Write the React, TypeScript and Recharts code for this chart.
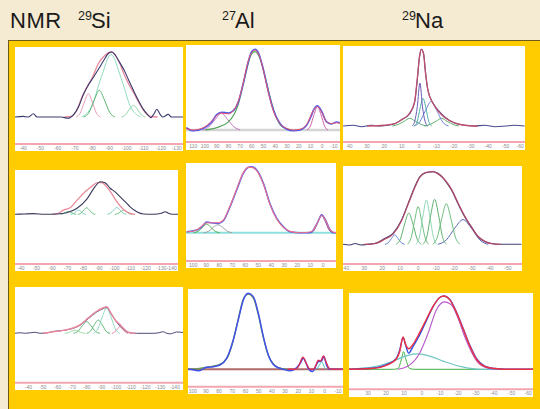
import { LineChart, Line, XAxis, YAxis, ReferenceLine } from 'recharts';

type Pt = [number, number];

// ppm tick labels under each spectrum
const siTicksA = [-40, -50, -60, -70, -80, -90, -100, -110, -120, -130];
const siTicksB = [-40, -50, -60, -70, -80, -90, -100, -110, -120, -130, -140];
const alTicksA = [110, 100, 90, 80, 70, 60, 50, 40, 30, 20, 10, 0, -10];
const alTicksB = [100, 90, 80, 70, 60, 50, 40, 30, 20, 10, 0];
const alTicksC = [100, 90, 80, 70, 60, 50, 40, 30, 20, 10, 0, -10];
const naTicksA = [40, 30, 20, 10, 0, -10, -20, -30, -40, -50, -60];
const naTicksB = [40, 30, 20, 10, 0, -10, -20, -30, -40, -50];
const naTicksC = [30, 20, 10, 0, -10, -20, -30, -40, -50, -60];

// --- 29Si, row 1  [ppm, intensity]
const siAExp: Pt[] = [[-35.2, 0], [-40, 1], [-43, 0], [-45.9, 5], [-48, 0], [-55, 0], [-62, 0], [-66, -2], [-69, 3], [-72, 15], [-75, 35], [-78, 50], [-81, 62], [-84, 75], [-87, 88], [-89.5, 98], [-91.4, 100], [-93.5, 95], [-96, 84], [-99, 70], [-101, 58], [-104, 41], [-107, 25], [-110, 11], [-112.5, 3], [-114, -1], [-116, 5], [-117.6, 12], [-119.5, 4], [-121, 0], [-124.3, 4], [-126, 0], [-132.8, 0]];
const siAFit: Pt[] = [[-64, 0], [-68, 1], [-71, 10], [-74, 30], [-77, 46], [-80, 60], [-83.6, 82], [-87.5, 95], [-91.4, 100], [-94, 93], [-96.2, 82], [-98.5, 66], [-101, 52], [-104, 38], [-107, 23], [-110, 10], [-112, 4], [-114, 1], [-118, 0]];
const siAC1: Pt[] = [[-70.8, 0], [-73.1, 6], [-75.5, 23], [-77.8, 36], [-80.1, 23], [-82.5, 6], [-84.8, 0]];
const siAC2: Pt[] = [[-75.2, 0], [-78.2, 7], [-81.2, 26], [-84.2, 41], [-87.2, 26], [-90.2, 7], [-93.2, 0]];
const siAC3: Pt[] = [[-74, 0], [-79.7, 16], [-85.3, 61], [-91, 96], [-96.7, 61], [-102.3, 16], [-108, 0]];
const siAC4: Pt[] = [[-97, 0], [-99.3, 3], [-101.7, 12], [-104, 18], [-106.3, 12], [-108.7, 3], [-111, 0]];

// --- 27Al, row 1
const alAExp: Pt[] = [[116, 3], [110, -1], [101.4, 2], [94.3, 10], [90, 19], [85.8, 22], [80.1, 21], [75.8, 24], [71.5, 35], [67.3, 58], [63, 85], [60.2, 97], [57.3, 100], [54.5, 96], [50.2, 75], [46, 48], [41.7, 25], [36, 8], [30.3, 1], [24.6, -1], [18.9, 0], [13.2, 6], [9.5, 17], [7.6, 24], [4.1, 30], [0.4, 23], [-3.8, 10], [-8.1, 7.5], [-12.4, 10], [-15, 9]];
const alAFit: Pt[] = [[116, 2], [110, 0], [101.4, 3], [94.3, 11], [90, 18], [85.8, 21], [80.1, 20], [75.8, 24], [71.5, 36], [67.3, 59], [63, 86], [60.2, 96], [57.3, 99], [54.5, 95], [50.2, 74], [46, 47], [41.7, 24], [36, 8], [30.3, 2], [24.6, 0], [18.9, 1], [13.2, 7], [7.6, 24], [4.1, 29], [0.4, 22], [-3.8, 10], [-8.1, 8], [-12.4, 9], [-15, 8]];
const alAC1: Pt[] = [[100, 0], [90, 3], [80, 10], [72, 30], [66, 65], [61, 92], [57.3, 97], [53.5, 90], [49, 68], [44, 38], [39, 15], [33, 3], [26, 0]];
const alAC2: Pt[] = [[102, 0], [96.7, 4], [91.3, 13], [86, 21], [80.7, 13], [75.3, 4], [70, 0]];
const alAC3: Pt[] = [[13, 0], [10, 5], [7, 19], [4, 29], [1, 19], [-2, 5], [-5, 0]];

// --- 23Na, row 1
const naAExp: Pt[] = [[43.9, 0], [38, 1], [33, -1], [28, 1], [22, 0], [17.9, 1], [14, 3], [10.2, 8], [5.4, 16], [2.6, 30], [1, 60], [-0.3, 90], [-1.3, 100], [-2.6, 95], [-3.8, 69], [-5.1, 47], [-8, 30], [-10.9, 21], [-14.8, 12], [-20.5, 4], [-26.3, 1], [-32, 0], [-38, 1], [-44, -1], [-50, 0], [-55, 1], [-61, 0]];
const naAFit: Pt[] = [[30, 0], [20, 1], [14, 3], [10.2, 8], [5.4, 17], [2.6, 31], [1, 62], [-0.3, 91], [-1.3, 100], [-2.6, 94], [-3.8, 68], [-5.1, 47], [-8, 30], [-10.9, 20], [-14.8, 11], [-20.5, 4], [-26.3, 1], [-34, 0]];
const naAC1: Pt[] = [[4, 0], [2.5, 6], [1, 25], [-0.5, 56], [-2, 25], [-3.5, 6], [-5, 0]];
const naAC2: Pt[] = [[2.7, 0], [1, 6], [-0.6, 23], [-2.3, 36], [-4, 23], [-5.6, 6], [-7.3, 0]];
const naAC3: Pt[] = [[3, 0], [-0.3, 5], [-3.7, 20], [-7, 32], [-10.3, 20], [-13.7, 5], [-17, 0]];
const naAC4: Pt[] = [[15.4, 0], [12, 2], [8.7, 6], [5.4, 10], [2, 6], [-1.3, 2], [-4.6, 0]];
const naAC5: Pt[] = [[-3, 0], [-6.3, 2], [-9.7, 6], [-13, 10], [-16.3, 6], [-19.7, 2], [-23, 0]];

// --- 29Si, row 2
const siBExp: Pt[] = [[-36.2, 0], [-42, 1], [-48, 2], [-55, 0], [-62.9, 1], [-69.3, 5], [-75.7, 18], [-82.1, 46], [-87.5, 85], [-90.7, 100], [-93.9, 97], [-97.1, 80], [-100.3, 69], [-103.5, 54], [-106.7, 39], [-109.9, 23], [-114.2, 8], [-118.5, 1], [-125, 0], [-130, 3], [-132.4, 8], [-134.5, 3], [-137, 0], [-140.6, 0]];
const siBFit: Pt[] = [[-60, 0], [-64, 3], [-67.2, 13], [-71.5, 20], [-75.7, 42], [-81.1, 69], [-85.3, 85], [-89, 97], [-91.8, 97], [-94.8, 85], [-98, 64], [-101.4, 39], [-105.7, 15], [-109.9, 3], [-113.1, 0]];
const siBC1: Pt[] = [[-65.4, 0], [-67.1, 2], [-68.7, 6], [-70.4, 9], [-72.1, 6], [-73.7, 2], [-75.4, 0]];
const siBC2: Pt[] = [[-71.8, 0], [-73.5, 2], [-75.1, 8], [-76.8, 13], [-78.5, 8], [-80.1, 2], [-81.8, 0]];
const siBC3: Pt[] = [[-76.6, 0], [-78.4, 3], [-80.3, 13], [-82.1, 20], [-83.9, 13], [-85.8, 3], [-87.6, 0]];
const siBC4: Pt[] = [[-95.4, 0], [-97.4, 4], [-99.4, 13], [-101.4, 21], [-103.4, 13], [-105.4, 4], [-107.4, 0]];
const siBC5: Pt[] = [[-100.2, 0], [-102, 2], [-103.9, 8], [-105.7, 13], [-107.5, 8], [-109.4, 2], [-111.2, 0]];

// --- 27Al, row 2
const alBExp: Pt[] = [[105.1, 1.5], [97.4, 4], [93.5, 9], [89.7, 16], [85.9, 15], [80.7, 14], [76.9, 18], [71.8, 39], [66.6, 65], [61.5, 90], [57.6, 99], [55.1, 100], [51.2, 95], [46.1, 75], [41, 44], [35.9, 22], [30.7, 9], [25.6, 1.5], [17.9, 0], [10.2, 0], [8, 3], [4.5, 15], [1.2, 27], [-2, 18], [-5, 5], [-7.7, 0], [-9.8, 0]];
const alBFit: Pt[] = [[105.1, 1], [97.4, 4], [93.5, 10], [89.7, 15], [85.9, 15], [80.7, 15], [76.9, 19], [71.8, 40], [66.6, 66], [61.5, 91], [57.6, 99], [55.1, 99], [51.2, 94], [46.1, 74], [41, 43], [35.9, 21], [30.7, 8], [25.6, 2], [17.9, 0], [10.2, 1], [8, 3], [4.5, 15], [1.2, 26], [-2, 18], [-5, 5], [-7.7, 1], [-9.8, 0]];
const alBC1: Pt[] = [[99.7, 0], [96.4, 2], [93, 8], [89.7, 13], [86.4, 8], [83, 2], [79.7, 0]];
const alBC2: Pt[] = [[92, 0], [88.3, 2], [84.7, 8], [81, 12], [77.3, 8], [73.7, 2], [70, 0]];
const alBC3: Pt[] = [[9.7, 0], [6.9, 4], [4, 17], [1.2, 26], [-1.6, 17], [-4.5, 4], [-7.3, 0]];

// --- 23Na, row 2
const naBExp: Pt[] = [[41.8, 0], [38, -1], [35, 1], [32, -1], [28, 0], [24.2, 1], [18.6, 8], [14, 15], [9.3, 33], [5.6, 56], [1.9, 79], [-0.9, 93], [-4.6, 99], [-8.3, 100], [-11.1, 98], [-14.8, 88.5], [-18.5, 75], [-22.2, 56], [-25.9, 38], [-29.6, 24], [-33.3, 10.5], [-37.1, 3.7], [-40.8, 1], [-44.5, 0], [-57.5, 0]];
const naBFit: Pt[] = [[30, 0], [24.2, 1], [18.6, 7], [14, 14], [9.3, 32], [5.6, 55], [1.9, 78], [-0.9, 92], [-4.6, 99], [-8.3, 100], [-11.1, 97], [-14.8, 89], [-18.5, 76], [-22.2, 57], [-25.9, 39], [-29.6, 24], [-33.3, 11], [-37.1, 4], [-40.8, 1], [-46, 0]];
const naBC1: Pt[] = [[18.5, 0], [16.7, 2], [14.8, 8], [13, 13], [11.2, 8], [9.3, 2], [7.5, 0]];
const naBC2: Pt[] = [[12.2, 0], [9.9, 7], [7.5, 28], [5.2, 43], [2.9, 28], [0.5, 7], [-1.8, 0]];
const naBC3: Pt[] = [[5.8, 0], [3.9, 9], [1.9, 33], [0, 52], [-1.9, 33], [-3.9, 9], [-5.8, 0]];
const naBC4: Pt[] = [[1.2, 0], [-0.7, 10], [-2.7, 39], [-4.6, 61], [-6.5, 39], [-8.5, 10], [-10.4, 0]];
const naBC5: Pt[] = [[-2.7, 0], [-4.9, 11], [-7, 40], [-9.2, 62], [-11.4, 40], [-13.5, 11], [-15.7, 0]];
const naBC6: Pt[] = [[-8.2, 0], [-10.7, 10], [-13.2, 36], [-15.7, 56], [-18.2, 36], [-20.7, 10], [-23.2, 0]];
const naBC7: Pt[] = [[-11, 0], [-15.7, 6], [-20.3, 22], [-25, 34], [-29.7, 22], [-34.3, 6], [-39, 0]];

// --- 29Si, row 3
const siCExp: Pt[] = [[-30.9, 0], [-34.3, 2], [-38, 0], [-44.5, 4], [-48, 0], [-52, 1], [-57, 7], [-63.9, 11], [-69.5, 17], [-75.2, 30], [-80.9, 55], [-86.6, 80], [-91.1, 93], [-93.4, 97], [-96.8, 70], [-100.2, 42], [-104.8, 15], [-108.2, 3], [-113.9, 0], [-125, 0], [-129, 2], [-132, 6], [-134, 1], [-136.6, -2], [-139, 1], [-141.1, 5], [-145.5, 3]];
const siCFit: Pt[] = [[-50, 0], [-57, 6], [-63.9, 11], [-69.5, 18], [-75.2, 32], [-80.9, 58], [-86.6, 83], [-91.1, 96], [-93.4, 100], [-96.8, 72], [-99.5, 48], [-102.5, 33], [-105, 18], [-107.5, 6], [-110, 1], [-113, 0]];
const siCC1: Pt[] = [[-70.8, 0], [-73.8, 7], [-76.8, 28], [-79.8, 44], [-82.8, 28], [-85.8, 7], [-88.8, 0]];
const siCC2: Pt[] = [[-79.7, 0], [-82.4, 8], [-85, 32], [-87.7, 50], [-90.4, 32], [-93, 8], [-95.7, 0]];
const siCC3: Pt[] = [[-84.4, 0], [-87.4, 16], [-90.4, 61], [-93.4, 95], [-96.4, 61], [-99.4, 16], [-102.4, 0]];
const siCC4: Pt[] = [[-97, 0], [-98.8, 4], [-100.7, 16], [-102.5, 25], [-104.3, 16], [-106.2, 4], [-108, 0]];
const siCC5: Pt[] = [[-64.8, 0], [-67.1, 2], [-69.5, 8], [-71.8, 12], [-74.1, 8], [-76.5, 2], [-78.8, 0]];

// --- 27Al, row 3
const alCExp: Pt[] = [[103.6, 0], [102.1, 0], [95.8, -2], [89.5, 2.6], [84.4, 3.5], [79.4, 5.7], [74.3, 14.5], [69.3, 38.6], [65.5, 65], [61.7, 91], [57.9, 100], [54.1, 95.6], [50.3, 73.7], [46.5, 43], [42.7, 18.9], [37.7, 4.4], [31.4, 0], [26.3, -2], [21.3, 2], [18.5, 8], [16.2, 14.5], [14, 8], [12.4, 1], [9.2, -3], [6.5, 5], [4.9, 10], [2.3, 11], [0.6, 16.7], [-1.5, 5], [-4, 0], [-13.9, 0]];
const alCMain: Pt[] = [[103, 0], [95, 1], [88, 3], [82, 5], [77, 9], [73, 18], [69.3, 38], [65.5, 66], [61.7, 92], [57.9, 99], [54.1, 94], [50.3, 72], [46.5, 42], [42.7, 18], [37.7, 5], [33, 1], [28, 0]];
const alCRed: Pt[] = [[28, 0], [22, 0], [19.5, 5], [16.5, 15.8], [13.5, 6], [11, 0], [8.5, 0], [6.5, 6], [4.9, 12], [3, 11], [1, 17.5], [-1, 10], [-3, 2], [-5, 0], [-13.9, 0]];
const alCC1: Pt[] = [[6, 0], [4.5, 4], [3.2, 8], [2.3, 10], [1.2, 7], [0, 2], [-1.2, 0]];

// --- 23Na, row 3
const naCExp: Pt[] = [[40.6, 0], [28.2, 1.4], [18.9, 7.3], [14.3, 15], [12.4, 26], [10.5, 43.6], [9.1, 33], [7.4, 22], [5, 31], [1.3, 47], [-2.4, 66], [-6.2, 85.5], [-9.9, 98], [-12.3, 100], [-15.4, 95.5], [-19.1, 78.6], [-22.9, 56], [-26.6, 33], [-30.3, 15], [-34.9, 4.5], [-40.5, 1], [-46, 0], [-61.8, 0]];
const naCFit: Pt[] = [[40.6, 0], [28.2, 1], [18.9, 6.5], [14.3, 14], [12.4, 24], [10.5, 44], [9.1, 34], [7.4, 28], [5, 34], [1.3, 50], [-2.4, 68], [-6.2, 86], [-9.9, 98], [-12.3, 100], [-15.4, 95], [-19.1, 78], [-22.9, 55], [-26.6, 32], [-30.3, 14], [-34.9, 4], [-40.5, 1], [-46, 0], [-61.8, 0]];
const naCC1: Pt[] = [[13.3, 0], [6.8, 6], [1.3, 22], [-3.4, 49], [-8, 81], [-12.6, 92], [-16.4, 88], [-20.1, 69.5], [-23.8, 44.5], [-27.5, 24], [-31.2, 9], [-36.8, 1.4], [-40.5, 0]];
const naCC2: Pt[] = [[40.6, 0], [35.6, 1], [24.5, 4.5], [15.2, 12], [7.8, 19], [2.2, 21], [-4.3, 18], [-12.6, 10.5], [-21.9, 3.6], [-33, 0], [-61.8, 0]];
const naCC3: Pt[] = [[40.6, 0], [16, 0], [13.3, 1], [11.5, 13], [10.2, 24], [8.9, 13], [6.8, 1], [4, 0], [-45, 0]];

type Curve = { pts: Pt[]; color: string; width?: number };

type PanelProps = {
  left: number; top: number; width: number; height: number;
  axisY: number; base: number; peak: number;
  domain: [number, number];
  ticks: number[];
  curves: Curve[];
  baseColor?: string; baseWidth?: number;
};

const font = 'Liberation Sans, Arial, sans-serif';

// tiny ppm label, nudged inward so the end labels are not cut by the panel edge
function edgeTick(width: number) {
  return (props: any) => {
    const { x, y, payload } = props;
    const label = String(payload.value);
    const half = label.length * 1.45;
    const cx = Math.min(Math.max(x, half + 0.5), width - half - 0.5);
    return (
      <text x={cx} y={y} dy={3.8} textAnchor="middle" fontSize={5} fill="#8c8c8c" fontFamily={font}>
        {label}
      </text>
    );
  };
}

function Panel(p: PanelProps) {
  // value 0 sits on the baseline pixel, value 100 on the peak pixel
  const range = (100 * p.axisY) / (p.base - p.peak);
  const yMax = (100 * p.base) / (p.base - p.peak);
  const yMin = yMax - range;
  return (
    <div style={{ position: 'absolute', left: p.left, top: p.top, width: p.width, height: p.height, background: '#fff', overflow: 'hidden' }}>
      <LineChart width={p.width} height={p.height} margin={{ top: 0, right: 0, bottom: 0, left: 0 }}>
        <XAxis
          type="number" dataKey="x" domain={p.domain} reversed allowDataOverflow
          ticks={p.ticks} interval={0} height={p.height - p.axisY}
          axisLine={{ stroke: '#f3a6b0', strokeWidth: 2 }}
          tickLine={false} tickSize={1} tickMargin={1}
          tick={edgeTick(p.width)}
        />
        <YAxis hide type="number" domain={[yMin, yMax]} allowDataOverflow />
        {p.baseColor && <ReferenceLine y={0} stroke={p.baseColor} strokeWidth={p.baseWidth ?? 1} />}
        {p.curves.map((c, i) => (
          <Line
            key={i}
            data={c.pts.map(([x, y]) => ({ x, y }))}
            dataKey="y" type="monotone"
            stroke={c.color} strokeWidth={c.width ?? 1}
            dot={false} isAnimationActive={false}
          />
        ))}
      </LineChart>
    </div>
  );
}

function Label({ x, y, sup, text }: { x: number; y: number; sup: string; text: string }) {
  return (
    <>
      <span style={{ position: 'absolute', left: x, top: y, fontSize: 12.5, lineHeight: '12.5px', color: '#1a1a1a' }}>{sup}</span>
      <span style={{ position: 'absolute', left: x + 13, top: y, fontSize: 22, lineHeight: '22px', color: '#1a1a1a' }}>{text}</span>
    </>
  );
}

export default function App() {
  return (
    <div style={{ position: 'absolute', left: 0, top: 0, width: 540, height: 409, overflow: 'hidden', background: '#f5ebd3', fontFamily: font }}>
      <span style={{ position: 'absolute', left: 10, top: 10, fontSize: 22, lineHeight: '22px', color: '#1a1a1a', letterSpacing: 0.5 }}>NMR</span>
      <Label x={78} y={10} sup="29" text="Si" />
      <Label x={222} y={10} sup="27" text="Al" />
      <Label x={402} y={10} sup="29" text="Na" />

      <div style={{ position: 'absolute', left: 8, top: 40, width: 540, height: 380, background: '#ffcc00', borderTop: '1px solid #6e5a1c', borderLeft: '1px solid #6e5a1c' }} />

      {/* row 1 */}
      <Panel left={15} top={47} width={168} height={104} axisY={97} base={70} peak={5}
        domain={[-132.8, -35.2]} ticks={siTicksA}
        curves={[
          { pts: siAC3, color: '#8edcbc' },
          { pts: siAC1, color: '#e89ab8' },
          { pts: siAC2, color: '#5eb574' },
          { pts: siAC4, color: '#8fd4a4' },
          { pts: siAFit, color: '#e88a9c', width: 1.3 },
          { pts: siAExp, color: '#3a3a6e', width: 1.1 },
        ]} />
      <Panel left={186} top={45} width={154} height={105} axisY={97} base={85} peak={4.3}
        domain={[-15.2, 116.2]} ticks={alTicksA} baseColor="#d4d4d4" baseWidth={2.5}
        curves={[
          { pts: alAC2, color: '#c070c0' },
          { pts: alAC3, color: '#d060a8' },
          { pts: alAC1, color: '#5aa860', width: 1.2 },
          { pts: alAExp, color: '#4a5ef0', width: 1.6 },
          { pts: alAFit, color: '#e8506a', width: 1 },
        ]} />
      <Panel left={343} top={46} width={182} height={104} axisY={96} base={80} peak={3.3}
        domain={[-61.2, 43.9]} ticks={naTicksA}
        curves={[
          { pts: naAC4, color: '#60b070' },
          { pts: naAC5, color: '#60b070' },
          { pts: naAC3, color: '#6a84d8' },
          { pts: naAC2, color: '#50b0a8' },
          { pts: naAC1, color: '#6a5cb8' },
          { pts: naAExp, color: '#4a4a90', width: 1.1 },
          { pts: naAFit, color: '#c0506e', width: 1.3 },
        ]} />

      {/* row 2 */}
      <Panel left={15} top={170} width={163} height={101} axisY={94} base={44.3} peak={11.7}
        domain={[-140.6, -36.2]} ticks={siTicksB}
        curves={[
          { pts: siBC1, color: '#70c080' },
          { pts: siBC2, color: '#80d0c0' },
          { pts: siBC3, color: '#70c080' },
          { pts: siBC4, color: '#80d0c0' },
          { pts: siBC5, color: '#70c080' },
          { pts: siBFit, color: '#e8889a', width: 1.3 },
          { pts: siBExp, color: '#3a3a5e', width: 1.1 },
        ]} />
      <Panel left={186} top={163} width={150} height={105} axisY={98} base={69.7} peak={3.7}
        domain={[-9.8, 105.6]} ticks={alTicksB} baseColor="#8ee0e0" baseWidth={2}
        curves={[
          { pts: alBC1, color: '#50b050' },
          { pts: alBC2, color: '#a0a0a0' },
          { pts: alBC3, color: '#a05090' },
          { pts: alBExp, color: '#4a5ef0', width: 1.6 },
          { pts: alBFit, color: '#f07088', width: 1.1 },
        ]} />
      <Panel left={343} top={166} width={179} height={105} axisY={98} base={78.3} peak={5.7}
        domain={[-57.8, 41.8]} ticks={naTicksB}
        curves={[
          { pts: naBC7, color: '#5a6ab8' },
          { pts: naBC1, color: '#6a84d8' },
          { pts: naBC2, color: '#60b070' },
          { pts: naBC3, color: '#70bf80' },
          { pts: naBC4, color: '#90d8b8' },
          { pts: naBC5, color: '#60b070' },
          { pts: naBC6, color: '#70bf80' },
          { pts: naBExp, color: '#404070', width: 1.1 },
          { pts: naBFit, color: '#b04a6a', width: 1.3 },
        ]} />

      {/* row 3 */}
      <Panel left={15} top={287} width={168} height={103} axisY={95.7} base={46.3} peak={19.7}
        domain={[-145.5, -30.9]} ticks={siTicksB}
        curves={[
          { pts: siCC5, color: '#a0dca8' },
          { pts: siCC1, color: '#60b878' },
          { pts: siCC2, color: '#60b878' },
          { pts: siCC3, color: '#90dcc0' },
          { pts: siCC4, color: '#e890a8' },
          { pts: siCExp, color: '#4a4a7a', width: 1 },
          { pts: siCFit, color: '#ea8a9e', width: 1.4 },
        ]} />
      <Panel left={188} top={289} width={155} height={105} axisY={97.7} base={80.3} peak={4.3}
        domain={[-13.9, 103.6]} ticks={alTicksC} baseColor="#b06a6a" baseWidth={2}
        curves={[
          { pts: alCMain, color: '#6a9a50', width: 1.4 },
          { pts: alCExp, color: '#4050e8', width: 1.5 },
          { pts: alCC1, color: '#40c0c0' },
          { pts: alCRed, color: '#d83058', width: 1.4 },
        ]} />
      <Panel left={349} top={293} width={184} height={104} axisY={96.3} base={76.3} peak={3}
        domain={[-61.8, 40.6]} ticks={naTicksC}
        curves={[
          { pts: naCC3, color: '#40b040' },
          { pts: naCC2, color: '#70c4c4', width: 1.2 },
          { pts: naCC1, color: '#b858c8', width: 1.1 },
          { pts: naCExp, color: '#3050e0', width: 1.4 },
          { pts: naCFit, color: '#f03040', width: 1.4 },
        ]} />
    </div>
  );
}
